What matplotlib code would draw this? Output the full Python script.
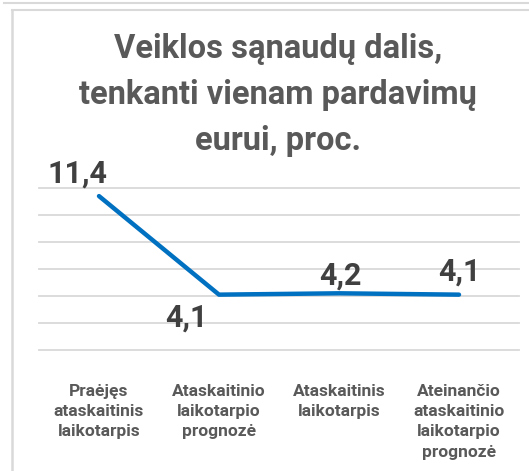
import matplotlib
matplotlib.use("Agg")
import matplotlib.pyplot as plt
from matplotlib.lines import Line2D

categories = ["Praėjęs\nataskaitinis\nlaikotarpis",
              "Ataskaitinio\nlaikotarpio\nprognozė",
              "Ataskaitinis\nlaikotarpis",
              "Ateinančio\nataskaitinio\nlaikotarpio\nprognozė"]
values = [11.4, 4.1, 4.2, 4.1]
labels = ["11,4", "4,1", "4,2", "4,1"]
yticks = [0, 2, 4, 6, 8, 10, 12]
# label offsets in pixels (dx, dy) from each point
offsets = [(-21, 23), (-33, -23), (1, 18), (0, 23)]

plt.rcParams['font.family'] = ['Roboto', 'DejaVu Sans']
grey = "#595959"
dark = "#404040"
grid = "#D9D9D9"

fig = plt.figure(figsize=(5.29, 4.71), dpi=100)
ax = fig.add_axes([39 / 529, 120 / 471, 480 / 529, 164 / 471])

x = list(range(len(values)))
ax.plot(x, values, color="#0070C0", lw=3.2, solid_capstyle="round",
        solid_joinstyle="round", zorder=3)
ax.set_xlim(-0.5, 3.5)
ax.set_ylim(-1 / 13.5, 12 + 1 / 13.5)
for yt in yticks:
    ax.axhline(yt, color=grid, lw=1.3, zorder=1, clip_on=False)
ax.tick_params(axis="y", left=False, labelleft=False)
ax.tick_params(axis="x", bottom=False, pad=20)
for s in ax.spines.values():
    s.set_visible(False)
ax.set_xticks(x)
ax.set_xticklabels(categories, fontsize=12.5, fontweight="bold", color=grey,
                   linespacing=1.45, va="top")

for xi, v, lab, (dx, dy) in zip(x, values, labels, offsets):
    ax.annotate(lab, (xi, v), xytext=(dx, dy), textcoords="offset pixels",
                ha="center", va="center", fontsize=22, fontweight="bold",
                color=dark)

fig.text(278 / 529, 1 - 95 / 471,
         "Veiklos sąnaudų dalis,\ntenkanti vienam pardavimų\neurui, proc.",
         ha="center", va="center", fontsize=23.5, fontweight="bold",
         color=grey, linespacing=1.55)

# frame remnants at the image edges
fig.add_artist(Line2D([4 / 529, 1], [1 - 3 / 471, 1 - 3 / 471],
                      transform=fig.transFigure, color=grid, lw=1.5))
fig.add_artist(Line2D([12 / 529, 1], [1 - 9.5 / 471, 1 - 9.5 / 471],
                      transform=fig.transFigure, color=grid, lw=1.5))
fig.add_artist(Line2D([12 / 529, 12 / 529], [0, 1 - 9.5 / 471],
                      transform=fig.transFigure, color=grid, lw=1.8))

fig.savefig("out.png", dpi=100)
